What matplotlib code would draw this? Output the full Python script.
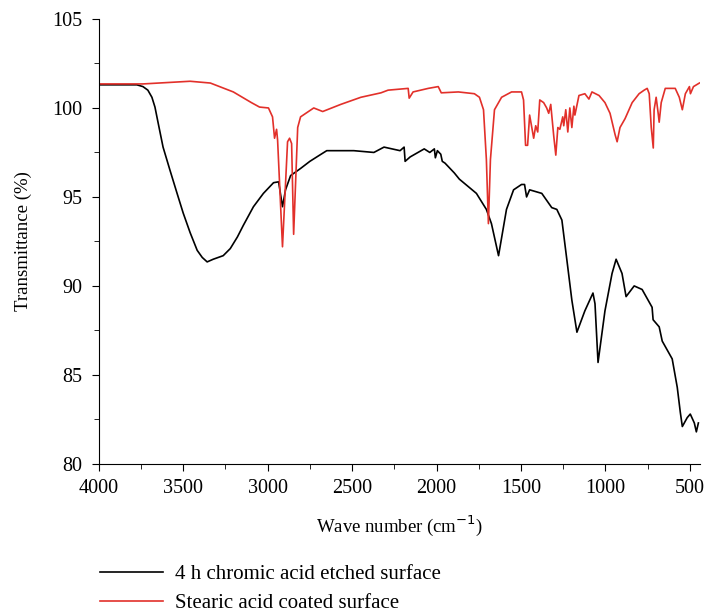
import matplotlib
matplotlib.use('Agg')
import matplotlib.pyplot as plt
from matplotlib.ticker import MultipleLocator

plt.rcParams['font.family'] = ['Liberation Serif', 'DejaVu Serif']

# FTIR spectra, values
wn_etched = [4000, 3774, 3738, 3709, 3685, 3667, 3649, 3619, 3578, 3536, 3500, 3459,
             3417, 3387, 3358, 3322, 3263, 3221, 3179, 3144, 3084, 3025, 2965, 2935,
             2912, 2894, 2864, 2805, 2750, 2692, 2650, 2490, 2371, 2311, 2216, 2192,
             2186, 2156, 2073, 2040, 2013, 2007, 1995, 1975, 1966, 1950, 1895, 1865,
             1764, 1705, 1675, 1633,
             1586, 1544, 1497, 1479, 1467, 1449, 1377, 1318, 1288, 1258, 1229, 1199,
             1169, 1122, 1074, 1062, 1044, 1003, 961, 937, 902, 878, 830, 783, 724,
             718, 682, 664, 605, 575, 557, 545, 516, 498, 474, 462, 450]
t_etched = [101.3, 101.3, 101.2, 101.0, 100.6, 100.05, 99.2, 97.8, 96.5, 95.2, 94.1, 93.0,
            92.0, 91.6, 91.35, 91.5, 91.7, 92.1, 92.75, 93.4, 94.45, 95.2, 95.8, 95.85,
            94.45, 95.4, 96.2, 96.6, 97.0, 97.35, 97.6, 97.6, 97.5, 97.8, 97.6, 97.8,
            97.0, 97.25, 97.7, 97.5, 97.7, 97.2, 97.6, 97.4, 97.0, 96.9, 96.35, 96.0,
            95.2, 94.3, 93.5, 91.7,
            94.3, 95.4, 95.7, 95.7, 95.0, 95.4, 95.2, 94.4, 94.3, 93.7, 91.5, 89.2,
            87.4, 88.6, 89.6, 89.0, 85.7, 88.6, 90.7, 91.5, 90.7, 89.4, 90.0, 89.8, 88.8,
            88.1, 87.7, 86.9, 85.9, 84.3, 82.9, 82.1, 82.6, 82.8, 82.3, 81.8, 82.3]

wn_coated = [4000, 3738, 3459, 3339, 3203, 3096, 3048, 2995, 2971, 2959, 2947, 2941,
             2912, 2882, 2870, 2858, 2846, 2822, 2805, 2727, 2674, 2567, 2448, 2329,
             2287, 2168, 2162, 2139, 2049, 1990, 1972, 1871, 1776, 1746, 1722, 1705,
             1693, 1681, 1657, 1615, 1556, 1497, 1485, 1473, 1461, 1449, 1425, 1413,
             1401, 1389, 1366, 1348, 1336, 1324, 1306, 1294, 1282, 1270, 1253, 1247,
             1235, 1223, 1211, 1199, 1187, 1181, 1157, 1122, 1098, 1080, 1038, 1003,
             973, 943, 931, 914, 884, 842, 801, 771, 753, 741, 729, 717, 712, 700,
             688, 682, 670, 646, 587, 563, 545, 527, 503, 497, 479, 444]
t_coated = [101.35, 101.35, 101.5, 101.4, 100.9, 100.3, 100.05, 100.0, 99.5, 98.3, 98.8, 98.2,
            92.2, 98.1, 98.3, 98.0, 92.9, 98.9, 99.5, 100.0, 99.8, 100.2, 100.6, 100.85,
            101.0, 101.1, 100.55, 100.9, 101.1, 101.2, 100.85, 100.9, 100.8, 100.6, 99.9, 97.1,
            93.5, 97.1, 99.9, 100.6, 100.9, 100.9, 100.45, 97.9, 97.9, 99.6, 98.3, 99.0,
            98.65, 100.45, 100.3, 100.0, 99.7, 100.2, 98.4, 97.35, 98.9, 98.8, 99.5, 99.0,
            99.9, 98.65, 100.0, 98.9, 100.1, 99.6, 100.7, 100.8, 100.5, 100.9, 100.7, 100.3,
            99.7, 98.5, 98.1, 98.9, 99.4, 100.3, 100.8, 101.0, 101.1, 100.8, 98.9, 97.75, 99.9, 100.6,
            99.7, 99.2, 100.3, 101.1, 101.1, 100.6, 99.9, 100.8, 101.2, 100.8, 101.2, 101.4]

fig = plt.figure(figsize=(7.05, 6.12), dpi=100)
ax = fig.add_axes([0.140, 0.242, 0.853, 0.727])

ax.plot(wn_etched, t_etched, color='black', linewidth=1.2, label='4 h chromic acid etched surface')
ax.plot(wn_coated, t_coated, color='#e2302a', linewidth=1.2, label='Stearic acid coated surface')

ax.set_xlim(4000, 440)
ax.set_ylim(80, 105)
ax.xaxis.set_major_locator(MultipleLocator(500))
ax.xaxis.set_minor_locator(MultipleLocator(250))
ax.yaxis.set_major_locator(MultipleLocator(5))
ax.yaxis.set_minor_locator(MultipleLocator(2.5))
ax.tick_params(which='major', direction='out', length=5, labelsize=14.5)
ax.tick_params(which='minor', direction='out', length=3.5)
ax.tick_params(axis='x', which='major', pad=6)
ax.tick_params(axis='y', which='major', pad=7)
ax.spines['top'].set_visible(False)
ax.spines['right'].set_visible(False)

ax.set_xlabel('Wave number (cm$^{-1}$)', fontsize=13.5, labelpad=11)
ax.set_ylabel('Transmittance (%)', fontsize=13.5, labelpad=14)

fig.legend(loc='upper left', bbox_to_anchor=(0.142, 0.077), frameon=False,
           fontsize=15, handlelength=3.0, borderpad=0, borderaxespad=0,
           labelspacing=0.42, handletextpad=0.6)

fig.savefig('out.png')
